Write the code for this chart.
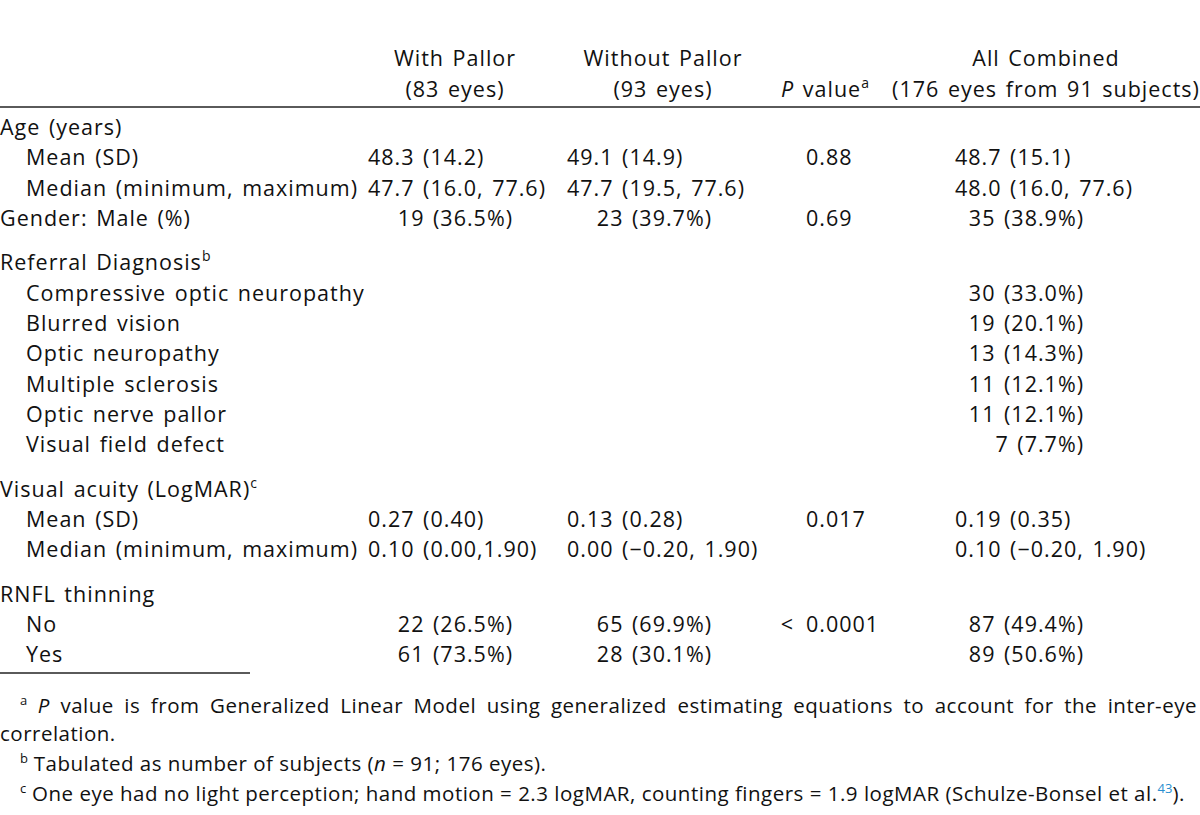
<!DOCTYPE html>
<html>
<head>
<meta charset="utf-8">
<script src="https://cdn.jsdelivr.net/npm/chart.js@4.4.1/dist/chart.umd.min.js"></script>
<style>
  html, body { margin: 0; padding: 0; background: #fff; }
  #sheet { position: relative; width: 1200px; height: 815px; overflow: hidden;
           font-family: "Open Sans", "Noto Sans", sans-serif; font-size: 21.5px; color: #111;
           letter-spacing: 1px; word-spacing: 2px; }
  .t { position: absolute; white-space: nowrap; line-height: 30px; height: 30px; }
  .rule { position: absolute; height: 2px; background: #5a5a5a; }
  sup { font-size: 14px; line-height: 0; vertical-align: 0; position: relative; top: -9px; letter-spacing: 0; }
  .fn { font-size: 20.5px; letter-spacing: 0.5px; word-spacing: 0; }
  .fn sup { font-size: 13px; top: -8px; }
  .ref { color: #2a8fd0; }
</style>
</head>
<body>
<div id="sheet"></div>
<script>
// header text
const groupNames = ["With Pallor", "Without Pallor", "All Combined"];
const groupSizes = ["(83 eyes)", "(93 eyes)", "(176 eyes from 91 subjects)"];

// row labels, indent level and footnote marks
const rowLabels = [
  "Age (years)", "Mean (SD)", "Median (minimum, maximum)", "Gender: Male (%)",
  "Referral Diagnosis", "Compressive optic neuropathy", "Blurred vision", "Optic neuropathy",
  "Multiple sclerosis", "Optic nerve pallor", "Visual field defect",
  "Visual acuity (LogMAR)", "Mean (SD)", "Median (minimum, maximum)",
  "RNFL thinning", "No", "Yes"
];
const rowLevels = [0, 1, 1, 0, 0, 1, 1, 1, 1, 1, 1, 0, 1, 1, 0, 1, 1];
const rowMarks = ["", "", "", "", "b", "", "", "", "", "", "", "c", "", "", "", "", ""];

// values
const withPallor = [
  "", "48.3 (14.2)", "47.7 (16.0, 77.6)", "19 (36.5%)",
  "", "", "", "", "", "", "",
  "", "0.27 (0.40)", "0.10 (0.00,1.90)",
  "", "22 (26.5%)", "61 (73.5%)"
];
const withoutPallor = [
  "", "49.1 (14.9)", "47.7 (19.5, 77.6)", "23 (39.7%)",
  "", "", "", "", "", "", "",
  "", "0.13 (0.28)", "0.00 (\u22120.20, 1.90)",
  "", "65 (69.9%)", "28 (30.1%)"
];
const pValues = [
  "", "0.88", "", "0.69",
  "", "", "", "", "", "", "",
  "", "0.017", "",
  "", "< 0.0001", ""
];
const allCombined = [
  "", "48.7 (15.1)", "48.0 (16.0, 77.6)", "35 (38.9%)",
  "", "30 (33.0%)", "19 (20.1%)", "13 (14.3%)", "11 (12.1%)", "11 (12.1%)", "7 (7.7%)",
  "", "0.19 (0.35)", "0.10 (\u22120.20, 1.90)",
  "", "87 (49.4%)", "89 (50.6%)"
];

const footA = "value is from Generalized Linear Model using generalized estimating equations to account for the inter-eye";
const footA2 = "correlation.";
const footB = ["Tabulated as number of subjects (", "n", " = 91; 176 eyes)."];
const footC = ["One eye had no light perception; hand motion = 2.3 logMAR, counting fingers = 1.9 logMAR (Schulze-Bonsel et al.", "43", ")."];

const sheet = document.getElementById("sheet");

function place(html, x, yc, opts) {
  opts = opts || {};
  const d = document.createElement("div");
  d.className = "t" + (opts.cls ? " " + opts.cls : "");
  d.innerHTML = html;
  d.style.top = (yc - 15) + "px";
  if (opts.right !== undefined) {
    d.style.right = (1200 - opts.right) + "px";
  } else if (opts.center !== undefined) {
    d.style.left = (opts.center - 400) + "px";
    d.style.width = "800px";
    d.style.textAlign = "center";
  } else {
    d.style.left = x + "px";
  }
  sheet.appendChild(d);
  return d;
}

function rule(x, y, w) {
  const r = document.createElement("div");
  r.className = "rule";
  r.style.left = x + "px";
  r.style.top = y + "px";
  r.style.width = w + "px";
  sheet.appendChild(r);
}

// header
const headCenters = [455, 663, 1046];
groupNames.forEach((g, i) => {
  place(g, 0, 58, { center: headCenters[i] });
  place(groupSizes[i], 0, 89, { center: headCenters[i] });
});
place("<i>P</i> value<sup>a</sup>", 0, 89, { center: 825 });
rule(0, 106, 1200);

// body
const cols = [
  { vals: withPallor, left: 368, countRight: 513 },
  { vals: withoutPallor, left: 567, countRight: 712 },
  { vals: allCombined, left: 955, countRight: 1084 }
];
const pDot = 806;

let y = 127;
rowLabels.forEach((label, i) => {
  const empty = !withPallor[i] && !withoutPallor[i] && !pValues[i] && !allCombined[i];
  if (i > 0) y += (rowLevels[i] === 0 && empty) ? 44.5 : 30.3;
  const mark = rowMarks[i] ? "<sup>" + rowMarks[i] + "</sup>" : "";
  place(label + mark, rowLevels[i] ? 26 : 0, y);

  cols.forEach(c => {
    const v = c.vals[i];
    if (!v) return;
    if (/^\d+ \(\d/.test(v) && v.indexOf("%") > 0) place(v, 0, y, { right: c.countRight });
    else place(v, c.left, y);
  });

  const p = pValues[i];
  if (p) {
    const k = p.search(/\d/);
    if (k > 0) place(p.slice(0, k).trim(), 0, y, { right: pDot - 12 });
    place(p.slice(k), pDot, y);
  }
});
rule(0, 672, 250);

// footnotes
const fa = place("<sup>a</sup> <i>P</i> " + footA, 20, 705, { cls: "fn" });
fa.style.width = "1177px";
fa.style.textAlign = "justify";
fa.style.textAlignLast = "justify";
place(footA2, 0, 733, { cls: "fn" });
place("<sup>b</sup> " + footB[0] + "<i>" + footB[1] + "</i>" + footB[2], 20, 763, { cls: "fn" });
place("<sup>c</sup> " + footC[0] + "<sup class='ref'>" + footC[1] + "</sup>" + footC[2], 20, 793, { cls: "fn" });
</script>
</body>
</html>
